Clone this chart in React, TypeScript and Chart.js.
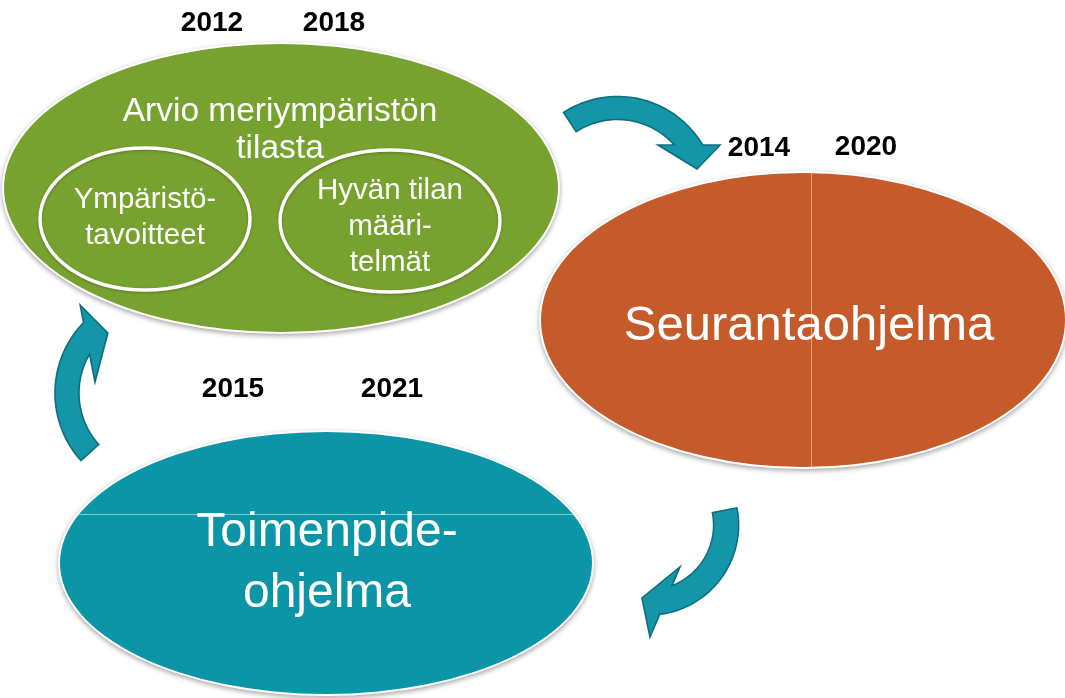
import React, { useEffect, useRef } from 'react';
import { Chart, registerables } from 'chart.js';

Chart.register(...registerables);

const CANVAS_W = 1065;
const CANVAS_H = 698;

// Main nodes of the cycle (ellipses)
const nodeNames = ['Arvio', 'Seuranta', 'Toimenpide'];
const nodeCenterX = [281, 803, 326];
const nodeCenterY = [188, 320, 563];
const nodeRadiusX = [277, 262, 266];
const nodeRadiusY = [144, 147, 131];
const nodeColors = ['#78A22F', '#C55A2A', '#0C95A7'];
const nodeSeamX: (number | null)[] = [null, 811, null];
const nodeSeamY: (number | null)[] = [null, null, 514];
const nodeSeamColors = ['', 'rgba(235,170,140,0.9)', 'rgba(140,205,215,0.9)'];

// Node labels
const nodeLabelLines = [['Arvio meriympäristön', 'tilasta'], ['Seurantaohjelma'], ['Toimenpide-', 'ohjelma']];
const nodeLabelX = [280, 809, 327];
const nodeLabelBaseline = [121, 340, 546];
const nodeLabelLineGap = [37, 0, 61];
const nodeLabelSize = [33.5, 49, 48];

// Inner ellipses inside the first node
const subLabelLines = [['Ympäristö-', 'tavoitteet'], ['Hyvän tilan', 'määri-', 'telmät']];
const subCenterX = [145, 390];
const subCenterY = [219, 221];
const subRadiusX = [105, 110];
const subRadiusY = [71, 71];
const subLabelBaseline = [208, 199];
const subLabelLineGap = [36, 36];
const subLabelSize = [29.5, 29.5];

// Year labels
const yearLabels = ['2012', '2018', '2014', '2020', '2015', '2021'];
const yearX = [212, 334, 759, 866, 233, 392];
const yearY = [23, 23, 148, 147, 389, 389];

// Curved arrows (polar description around a centre)
const arrowCenterX = [617.5, 648.6, 156];
const arrowCenterY = [195.5, 525, 393];
const arrowInnerR = [76, 65, 77];
const arrowOuterR = [99, 90, 101];
const arrowTailDeg = [-123, -11, 138];
const arrowInnerBarbR = [64.7, 52.4, 62];
const arrowInnerBarbDeg = [-51.3, 53.2, 190.2];
const arrowOuterBarbR = [114.3, 112, 116];
const arrowOuterBarbDeg = [-26.2, 89.3, 229.2];
const arrowTipR = [83.8, 73.3, 77];
const arrowTipDeg = [-18.4, 95.2, 231.3];
const arrowFill = '#1495A8';
const arrowStroke = '#0E6E7C';

const FONT = '"Liberation Sans", Arial, Helvetica, sans-serif';

const diagramPlugin = {
  id: 'cycleDiagram',
  beforeDatasetsDraw(chart: any) {
    const ctx: CanvasRenderingContext2D = chart.ctx;
    const xs = chart.scales.x;
    const ys = chart.scales.y;
    const px = (v: number) => xs.getPixelForValue(v);
    const py = (v: number) => ys.getPixelForValue(v);
    const sx = (r: number) => Math.abs(xs.getPixelForValue(r) - xs.getPixelForValue(0));
    const sy = (r: number) => Math.abs(ys.getPixelForValue(r) - ys.getPixelForValue(0));

    ctx.save();

    // ---- arrows ----
    const rad = (d: number) => (d * Math.PI) / 180;
    for (let i = 0; i < arrowCenterX.length; i++) {
      const cx = arrowCenterX[i];
      const cy = arrowCenterY[i];
      const pol = (r: number, deg: number) => [cx + r * Math.cos(rad(deg)), cy + r * Math.sin(rad(deg))];
      const A = pol(arrowInnerBarbR[i], arrowInnerBarbDeg[i]);
      const B = pol(arrowOuterBarbR[i], arrowOuterBarbDeg[i]);
      const T = pol(arrowTipR[i], arrowTipDeg[i]);
      const hit = (r: number) => {
        const dx = B[0] - A[0];
        const dy = B[1] - A[1];
        const fx = A[0] - cx;
        const fy = A[1] - cy;
        const a = dx * dx + dy * dy;
        const b = 2 * (fx * dx + fy * dy);
        const c = fx * fx + fy * fy - r * r;
        const disc = Math.max(0, b * b - 4 * a * c);
        const s1 = (-b + Math.sqrt(disc)) / (2 * a);
        const s2 = (-b - Math.sqrt(disc)) / (2 * a);
        const s = s1 >= 0 && s1 <= 1 ? s1 : s2;
        return [A[0] + s * dx, A[1] + s * dy];
      };
      const Jin = hit(arrowInnerR[i]);
      const Jout = hit(arrowOuterR[i]);
      const t0 = arrowTailDeg[i];
      const norm = (deg: number) => {
        let d = deg;
        while (d < t0) d += 360;
        while (d > t0 + 360) d -= 360;
        return d;
      };
      const angOut = norm((Math.atan2(Jout[1] - cy, Jout[0] - cx) * 180) / Math.PI);
      const angIn = norm((Math.atan2(Jin[1] - cy, Jin[0] - cx) * 180) / Math.PI);
      const steps = 48;
      ctx.beginPath();
      for (let k = 0; k <= steps; k++) {
        const d = t0 + ((angOut - t0) * k) / steps;
        const p = pol(arrowOuterR[i], d);
        if (k === 0) ctx.moveTo(px(p[0]), py(p[1]));
        else ctx.lineTo(px(p[0]), py(p[1]));
      }
      ctx.lineTo(px(Jout[0]), py(Jout[1]));
      ctx.lineTo(px(B[0]), py(B[1]));
      ctx.lineTo(px(T[0]), py(T[1]));
      ctx.lineTo(px(A[0]), py(A[1]));
      ctx.lineTo(px(Jin[0]), py(Jin[1]));
      for (let k = 0; k <= steps; k++) {
        const d = angIn + ((t0 - angIn) * k) / steps;
        const p = pol(arrowInnerR[i], d);
        ctx.lineTo(px(p[0]), py(p[1]));
      }
      ctx.closePath();
      ctx.fillStyle = arrowFill;
      ctx.fill();
      ctx.lineWidth = 1.6;
      ctx.lineJoin = 'miter';
      ctx.strokeStyle = arrowStroke;
      ctx.stroke();
    }

    // ---- main nodes ----
    for (let i = 0; i < nodeNames.length; i++) {
      const x = px(nodeCenterX[i]);
      const y = py(nodeCenterY[i]);
      const rx = sx(nodeRadiusX[i]);
      const ry = sy(nodeRadiusY[i]);
      ctx.save();
      ctx.shadowColor = 'rgba(0,0,0,0.35)';
      ctx.shadowBlur = 5;
      ctx.shadowOffsetX = 0;
      ctx.shadowOffsetY = 2;
      ctx.beginPath();
      ctx.ellipse(x, y, rx + 2, ry + 2, 0, 0, Math.PI * 2);
      ctx.fillStyle = '#ffffff';
      ctx.fill();
      ctx.restore();
      ctx.beginPath();
      ctx.ellipse(x, y, rx, ry, 0, 0, Math.PI * 2);
      ctx.fillStyle = nodeColors[i];
      ctx.fill();
      const seamX = nodeSeamX[i];
      const seamY = nodeSeamY[i];
      if (seamX !== null || seamY !== null) {
        ctx.save();
        ctx.beginPath();
        ctx.ellipse(x, y, rx, ry, 0, 0, Math.PI * 2);
        ctx.clip();
        ctx.strokeStyle = nodeSeamColors[i];
        ctx.lineWidth = 1;
        ctx.beginPath();
        if (seamX !== null) {
          ctx.moveTo(Math.round(px(seamX)) + 0.5, y - ry);
          ctx.lineTo(Math.round(px(seamX)) + 0.5, y + ry);
        }
        if (seamY !== null) {
          ctx.moveTo(x - rx, Math.round(py(seamY)) + 0.5);
          ctx.lineTo(x + rx, Math.round(py(seamY)) + 0.5);
        }
        ctx.stroke();
        ctx.restore();
      }
    }

    // ---- inner ellipses ----
    for (let i = 0; i < subCenterX.length; i++) {
      ctx.beginPath();
      ctx.ellipse(px(subCenterX[i]), py(subCenterY[i]), sx(subRadiusX[i]), sy(subRadiusY[i]), 0, 0, Math.PI * 2);
      ctx.save();
      ctx.shadowColor = 'rgba(0,0,0,0.25)';
      ctx.shadowBlur = 3;
      ctx.shadowOffsetY = 1;
      ctx.strokeStyle = '#ffffff';
      ctx.lineWidth = 3.5;
      ctx.stroke();
      ctx.restore();
    }

    // ---- texts ----
    ctx.fillStyle = '#ffffff';
    ctx.textAlign = 'center';
    ctx.textBaseline = 'alphabetic';
    for (let i = 0; i < nodeLabelLines.length; i++) {
      ctx.font = `${nodeLabelSize[i]}px ${FONT}`;
      nodeLabelLines[i].forEach((line, k) => {
        ctx.fillText(line, px(nodeLabelX[i]), py(nodeLabelBaseline[i] + k * nodeLabelLineGap[i]));
      });
    }
    for (let i = 0; i < subLabelLines.length; i++) {
      ctx.font = `${subLabelSize[i]}px ${FONT}`;
      subLabelLines[i].forEach((line, k) => {
        ctx.fillText(line, px(subCenterX[i]), py(subLabelBaseline[i] + k * subLabelLineGap[i]));
      });
    }
    ctx.fillStyle = '#000000';
    ctx.textBaseline = 'middle';
    ctx.font = `bold 28px ${FONT}`;
    for (let i = 0; i < yearLabels.length; i++) {
      ctx.fillText(yearLabels[i], px(yearX[i]), py(yearY[i]));
    }
    ctx.restore();
  },
};

export default function App() {
  const canvasRef = useRef<HTMLCanvasElement | null>(null);

  useEffect(() => {
    document.body.style.margin = '0';
    const canvas = canvasRef.current;
    if (!canvas) return;
    const chart = new Chart(canvas, {
      type: 'scatter',
      data: {
        datasets: [
          {
            label: 'nodes',
            data: nodeCenterX.map((x, i) => ({ x, y: nodeCenterY[i] })),
            pointRadius: 0,
            pointHoverRadius: 0,
          },
        ],
      },
      options: {
        animation: false,
        responsive: false,
        devicePixelRatio: 1,
        layout: { padding: 0 },
        events: [],
        plugins: {
          legend: { display: false },
          tooltip: { enabled: false },
          title: { display: false },
        },
        scales: {
          x: { type: 'linear', min: 0, max: CANVAS_W, display: false },
          y: { type: 'linear', min: 0, max: CANVAS_H, reverse: true, display: false },
        },
      },
      plugins: [diagramPlugin],
    });
    return () => chart.destroy();
  }, []);

  return (
    <div style={{ width: CANVAS_W, height: CANVAS_H, background: '#ffffff' }}>
      <canvas ref={canvasRef} width={CANVAS_W} height={CANVAS_H} style={{ display: 'block' }} />
    </div>
  );
}
